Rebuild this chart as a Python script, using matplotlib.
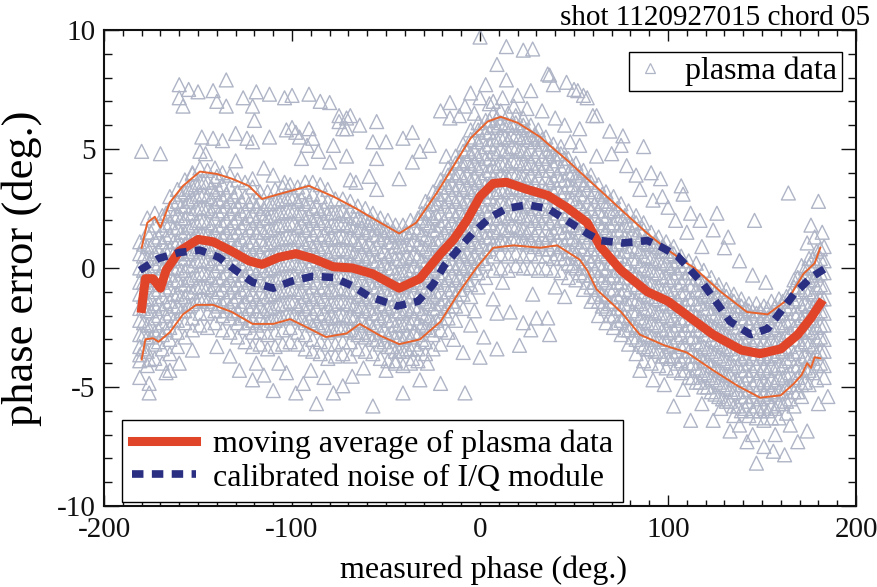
import matplotlib
matplotlib.use("Agg")
import matplotlib.pyplot as plt
from matplotlib.lines import Line2D
from matplotlib.ticker import MultipleLocator

plt.rcParams["font.family"] = ["Liberation Serif", "DejaVu Serif"]
plt.rcParams["axes.unicode_minus"] = False

TRI = "#afb5c6"
RED = "#e0452a"
RED_THIN = "#e8622c"
NAVY = "#2b2f82"

# plasma data, main band: one list of phase errors per measured-phase column
band_x = [-181, -177, -173, -169, -165, -161, -157, -153, -149, -145, -141, -137,
          -133, -129, -125, -121, -117, -113, -109, -105, -101, -97, -93, -89,
          -85, -81, -77, -73, -69, -65, -61, -57, -53, -49, -45, -41, -37, -33,
          -29, -25, -21, -17, -13, -9, -5, -1, 3, 7, 11, 15, 19, 23, 27, 31, 35,
          39, 43, 47, 51, 55, 59, 63, 67, 71, 75, 79, 83, 87, 91, 95, 99, 103,
          107, 111, 115, 119, 123, 127, 131, 135, 139, 143, 147, 151, 155, 159,
          163, 167, 171, 175, 179, 183]
band_y = [
    [-4.6, -3.9, -3.3, -2.8, -2.2, -1.7, -1.1, -0.6, 0.0, 0.6, 1.1],
    [-4.1, -3.5, -2.9, -2.4, -1.8, -1.3, -0.7, -0.2, 0.4, 0.9, 1.5, 2.1],
    [-3.8, -3.2, -2.7, -2.1, -1.6, -1.0, -0.5, 0.1, 0.6, 1.2, 1.8, 2.3],
    [-4.0, -3.4, -2.8, -2.3, -1.7, -1.2, -0.6, 0.0, 0.5, 1.1, 1.6, 2.2],
    [-3.6, -3.0, -2.5, -1.9, -1.4, -0.8, -0.3, 0.3, 0.8, 1.4, 1.9, 2.5, 3.0],
    [-3.3, -2.7, -2.2, -1.6, -1.1, -0.5, 0.0, 0.6, 1.1, 1.7, 2.2, 2.8, 3.3],
    [-2.9, -2.3, -1.8, -1.2, -0.7, -0.1, 0.4, 1.0, 1.5, 2.1, 2.6, 3.2, 3.7],
    [-2.6, -2.1, -1.5, -1.0, -0.4, 0.1, 0.7, 1.2, 1.8, 2.3, 2.9, 3.4, 4.0],
    [-2.4, -1.9, -1.3, -0.8, -0.2, 0.3, 0.9, 1.4, 2.0, 2.5, 3.1, 3.6, 4.2],
    [-2.5, -1.9, -1.4, -0.8, -0.3, 0.3, 0.8, 1.4, 1.9, 2.5, 3.0, 3.6, 4.1],
    [-2.3, -1.8, -1.2, -0.7, -0.1, 0.4, 1.0, 1.5, 2.1, 2.6, 3.2, 3.7, 4.2],
    [-2.6, -2.0, -1.5, -0.9, -0.4, 0.2, 0.7, 1.3, 1.8, 2.4, 2.9, 3.5, 4.0],
    [-2.7, -2.1, -1.6, -1.0, -0.5, 0.1, 0.6, 1.2, 1.7, 2.3, 2.8, 3.4, 3.9],
    [-2.9, -2.3, -1.8, -1.2, -0.7, -0.1, 0.4, 1.0, 1.5, 2.1, 2.6, 3.2, 3.7],
    [-3.1, -2.5, -2.0, -1.4, -0.9, -0.3, 0.2, 0.8, 1.3, 1.9, 2.4, 3.0, 3.6],
    [-3.3, -2.7, -2.2, -1.6, -1.1, -0.5, 0.0, 0.6, 1.1, 1.7, 2.2, 2.8, 3.4],
    [-3.2, -2.7, -2.1, -1.6, -1.0, -0.5, 0.1, 0.6, 1.2, 1.7, 2.3, 2.8, 3.2],
    [-3.4, -2.8, -2.3, -1.7, -1.2, -0.6, -0.1, 0.5, 1.0, 1.6, 2.1, 2.7, 3.2],
    [-3.3, -2.7, -2.2, -1.6, -1.1, -0.5, 0.0, 0.6, 1.1, 1.7, 2.2, 2.8, 3.3],
    [-3.2, -2.6, -2.1, -1.5, -1.0, -0.4, 0.1, 0.7, 1.2, 1.8, 2.3, 2.9, 3.4],
    [-3.1, -2.5, -2.0, -1.4, -0.9, -0.3, 0.2, 0.8, 1.3, 1.9, 2.4, 3.0, 3.5],
    [-3.2, -2.7, -2.1, -1.6, -1.0, -0.5, 0.1, 0.6, 1.2, 1.7, 2.3, 2.8, 3.4],
    [-3.4, -2.8, -2.3, -1.7, -1.2, -0.6, -0.1, 0.5, 1.0, 1.6, 2.1, 2.7, 3.2, 3.6],
    [-3.5, -3.0, -2.4, -1.9, -1.3, -0.8, -0.2, 0.3, 0.9, 1.4, 2.0, 2.5, 3.1, 3.6],
    [-3.6, -3.1, -2.5, -2.0, -1.4, -0.9, -0.3, 0.2, 0.8, 1.3, 1.9, 2.4, 3.0, 3.5],
    [-3.8, -3.2, -2.7, -2.1, -1.6, -1.0, -0.5, 0.1, 0.6, 1.2, 1.7, 2.3, 2.8, 3.3],
    [-3.7, -3.2, -2.6, -2.1, -1.5, -1.0, -0.4, 0.1, 0.7, 1.2, 1.8, 2.3, 2.9],
    [-3.6, -3.1, -2.5, -2.0, -1.4, -0.9, -0.3, 0.2, 0.8, 1.3, 1.9, 2.4, 2.9],
    [-3.7, -3.1, -2.6, -2.0, -1.5, -0.9, -0.4, 0.2, 0.7, 1.3, 1.8, 2.4, 2.8],
    [-3.4, -2.8, -2.3, -1.7, -1.2, -0.6, -0.1, 0.5, 1.0, 1.6, 2.1, 2.6],
    [-3.5, -2.9, -2.4, -1.8, -1.3, -0.7, -0.2, 0.4, 0.9, 1.5, 2.0, 2.5],
    [-3.6, -3.0, -2.5, -1.9, -1.4, -0.8, -0.3, 0.3, 0.8, 1.4, 1.9, 2.3],
    [-3.8, -3.2, -2.7, -2.1, -1.6, -1.0, -0.5, 0.1, 0.6, 1.2, 1.7, 2.1],
    [-3.9, -3.3, -2.8, -2.2, -1.7, -1.1, -0.6, 0.0, 0.5, 1.1, 1.6, 2.0],
    [-4.0, -3.5, -2.9, -2.4, -1.8, -1.3, -0.7, -0.2, 0.4, 0.9, 1.4, 1.8],
    [-4.1, -3.5, -3.0, -2.4, -1.9, -1.3, -0.8, -0.2, 0.3, 0.9, 1.4, 1.8],
    [-4.0, -3.4, -2.9, -2.3, -1.8, -1.2, -0.7, -0.1, 0.4, 1.0, 1.5, 2.0],
    [-3.9, -3.4, -2.8, -2.3, -1.7, -1.2, -0.6, -0.1, 0.5, 1.0, 1.6, 2.1],
    [-3.6, -3.1, -2.5, -2.0, -1.4, -0.9, -0.3, 0.2, 0.8, 1.3, 1.9, 2.4, 2.8],
    [-3.4, -2.8, -2.3, -1.7, -1.2, -0.6, -0.1, 0.5, 1.0, 1.6, 2.1, 2.7, 3.2],
    [-3.2, -2.6, -2.1, -1.5, -1.0, -0.4, 0.1, 0.7, 1.2, 1.8, 2.3, 2.9, 3.4, 3.7],
    [-2.7, -2.1, -1.6, -1.0, -0.5, 0.1, 0.6, 1.2, 1.7, 2.3, 2.8, 3.4, 3.9, 4.2],
    [-2.2, -1.6, -1.1, -0.5, 0.0, 0.6, 1.1, 1.7, 2.2, 2.8, 3.3, 3.9, 4.4, 4.7],
    [-1.7, -1.1, -0.6, 0.0, 0.5, 1.1, 1.6, 2.2, 2.7, 3.3, 3.8, 4.4, 4.9, 5.2],
    [-1.2, -0.7, -0.1, 0.4, 1.0, 1.5, 2.1, 2.6, 3.2, 3.7, 4.3, 4.8, 5.4, 5.8],
    [-0.8, -0.2, 0.3, 0.9, 1.4, 2.0, 2.5, 3.1, 3.6, 4.2, 4.7, 5.3, 5.8, 6.1],
    [-0.4, 0.2, 0.7, 1.3, 1.8, 2.4, 2.9, 3.5, 4.0, 4.6, 5.1, 5.7, 6.2],
    [-0.1, 0.5, 1.0, 1.6, 2.1, 2.7, 3.2, 3.8, 4.3, 4.9, 5.4, 6.0, 6.5],
    [0.0, 0.6, 1.1, 1.7, 2.2, 2.8, 3.3, 3.9, 4.4, 5.0, 5.5, 6.1, 6.6],
    [-0.1, 0.5, 1.0, 1.6, 2.1, 2.7, 3.2, 3.8, 4.3, 4.9, 5.4, 6.0, 6.5],
    [0.1, 0.6, 1.2, 1.7, 2.3, 2.8, 3.4, 3.9, 4.5, 5.0, 5.6, 6.1, 6.4],
    [0.0, 0.5, 1.1, 1.6, 2.2, 2.7, 3.3, 3.8, 4.4, 4.9, 5.5, 6.0, 6.3],
    [0.0, 0.6, 1.1, 1.7, 2.2, 2.8, 3.3, 3.9, 4.4, 5.0, 5.5, 6.0],
    [-0.1, 0.5, 1.0, 1.6, 2.1, 2.7, 3.2, 3.8, 4.3, 4.9, 5.4, 5.8],
    [0.0, 0.5, 1.1, 1.6, 2.2, 2.7, 3.3, 3.8, 4.4, 4.9, 5.5],
    [-0.1, 0.4, 1.0, 1.5, 2.1, 2.6, 3.2, 3.7, 4.3, 4.8, 5.2],
    [-0.2, 0.4, 0.9, 1.5, 2.0, 2.6, 3.1, 3.7, 4.2, 4.8, 5.1],
    [-0.4, 0.2, 0.7, 1.3, 1.8, 2.4, 2.9, 3.5, 4.0, 4.6],
    [-0.5, 0.0, 0.6, 1.1, 1.7, 2.2, 2.8, 3.3, 3.9, 4.4],
    [-0.9, -0.3, 0.2, 0.8, 1.3, 1.9, 2.4, 3.0, 3.5, 4.1],
    [-1.4, -0.8, -0.3, 0.3, 0.8, 1.4, 1.9, 2.5, 3.0, 3.6, 3.9],
    [-2.0, -1.4, -0.9, -0.3, 0.2, 0.8, 1.3, 1.9, 2.4, 3.0, 3.5],
    [-2.3, -1.7, -1.2, -0.6, -0.1, 0.5, 1.0, 1.6, 2.1, 2.7, 3.2],
    [-2.5, -2.0, -1.4, -0.9, -0.3, 0.2, 0.8, 1.3, 1.9, 2.4, 3.0],
    [-2.8, -2.2, -1.7, -1.1, -0.6, 0.0, 0.5, 1.1, 1.6, 2.2, 2.7],
    [-3.2, -2.6, -2.1, -1.5, -1.0, -0.4, 0.1, 0.7, 1.2, 1.8, 2.4],
    [-3.6, -3.0, -2.5, -1.9, -1.4, -0.8, -0.3, 0.3, 0.8, 1.4, 1.9, 2.2],
    [-3.9, -3.3, -2.8, -2.2, -1.7, -1.1, -0.6, 0.0, 0.5, 1.1, 1.6, 1.9],
    [-4.0, -3.4, -2.9, -2.3, -1.8, -1.2, -0.7, -0.1, 0.4, 1.0, 1.5],
    [-4.1, -3.5, -3.0, -2.4, -1.9, -1.3, -0.8, -0.2, 0.3, 0.9, 1.3],
    [-4.2, -3.7, -3.1, -2.6, -2.0, -1.5, -0.9, -0.4, 0.2, 0.7, 1.1],
    [-4.3, -3.7, -3.2, -2.6, -2.1, -1.5, -1.0, -0.4, 0.1, 0.6, 0.9],
    [-4.4, -3.9, -3.3, -2.8, -2.2, -1.7, -1.1, -0.6, 0.0, 0.5],
    [-4.6, -4.0, -3.5, -2.9, -2.4, -1.8, -1.3, -0.7, -0.2, 0.3],
    [-4.8, -4.2, -3.7, -3.1, -2.6, -2.0, -1.5, -0.9, -0.4, 0.2],
    [-5.0, -4.4, -3.9, -3.3, -2.8, -2.2, -1.7, -1.1, -0.6, -0.1],
    [-5.2, -4.6, -4.1, -3.5, -3.0, -2.4, -1.9, -1.3, -0.8, -0.4],
    [-5.4, -4.8, -4.3, -3.7, -3.2, -2.6, -2.1, -1.5, -1.0, -0.7],
    [-5.6, -5.0, -4.5, -3.9, -3.4, -2.8, -2.3, -1.7, -1.2, -0.9],
    [-5.8, -5.2, -4.7, -4.1, -3.6, -3.0, -2.5, -1.9, -1.4, -1.1],
    [-6.0, -5.4, -4.9, -4.3, -3.8, -3.2, -2.7, -2.1, -1.6, -1.3],
    [-6.2, -5.6, -5.1, -4.5, -4.0, -3.4, -2.9, -2.3, -1.8, -1.5],
    [-6.3, -5.8, -5.2, -4.7, -4.1, -3.6, -3.0, -2.5, -1.9, -1.5],
    [-6.4, -5.9, -5.3, -4.8, -4.2, -3.7, -3.1, -2.6, -2.0, -1.6],
    [-6.3, -5.8, -5.2, -4.7, -4.1, -3.6, -3.0, -2.5, -1.9, -1.4],
    [-6.3, -5.7, -5.2, -4.6, -4.1, -3.5, -3.0, -2.4, -1.9, -1.3],
    [-6.1, -5.6, -5.0, -4.5, -3.9, -3.4, -2.8, -2.3, -1.7, -1.2],
    [-5.8, -5.2, -4.7, -4.1, -3.6, -3.0, -2.5, -1.9, -1.4, -0.8, -0.5],
    [-5.4, -4.9, -4.3, -3.8, -3.2, -2.7, -2.1, -1.6, -1.0, -0.5, 0.1],
    [-4.9, -4.3, -3.8, -3.2, -2.7, -2.1, -1.6, -1.0, -0.5, 0.1, 0.4],
    [-4.7, -4.1, -3.6, -3.0, -2.5, -1.9, -1.4, -0.8, -0.3, 0.3, 0.7],
    [-4.6, -4.1, -3.5, -3.0, -2.4, -1.9, -1.3, -0.8, -0.2, 0.3, 0.9],
]

# plasma data, dense core between the band columns
core_x = [-179, -175, -171, -167, -163, -159, -155, -151, -147, -143, -139, -135,
          -131, -127, -123, -119, -115, -111, -107, -103, -99, -95, -91, -87,
          -83, -79, -75, -71, -67, -63, -59, -55, -51, -47, -43, -39, -35, -31,
          -27, -23, -19, -15, -11, -7, -3, 1, 5, 9, 13, 17, 21, 25, 29, 33, 37,
          41, 45, 49, 53, 57, 61, 65, 69, 73, 77, 81, 85, 89, 93, 97, 101, 105,
          109, 113, 117, 121, 125, 129, 133, 137, 141, 145, 149, 153, 157, 161,
          165, 169, 173, 177, 181]
core_y = [
    [-3.4, -2.8, -2.3, -1.7, -1.2, -0.6, -0.1, 0.5, 1.0],
    [-2.9, -2.4, -1.8, -1.3, -0.7, -0.2, 0.4, 0.9, 1.5],
    [-3.1, -2.6, -2.0, -1.5, -0.9, -0.4, 0.2, 0.7, 1.3],
    [-2.6, -2.0, -1.5, -0.9, -0.4, 0.2, 0.7, 1.3, 1.8, 2.3],
    [-2.2, -1.6, -1.1, -0.5, 0.0, 0.6, 1.1, 1.7, 2.2, 2.7],
    [-1.8, -1.2, -0.7, -0.1, 0.4, 1.0, 1.5, 2.1, 2.6, 3.1],
    [-1.6, -1.0, -0.5, 0.1, 0.6, 1.2, 1.7, 2.3, 2.8, 3.3],
    [-1.4, -0.8, -0.3, 0.3, 0.8, 1.4, 1.9, 2.5, 3.0, 3.5],
    [-1.3, -0.8, -0.2, 0.3, 0.9, 1.4, 2.0, 2.5, 3.1, 3.6],
    [-1.5, -0.9, -0.4, 0.2, 0.7, 1.3, 1.8, 2.4, 2.9, 3.4],
    [-1.6, -1.0, -0.5, 0.1, 0.6, 1.2, 1.7, 2.3, 2.8, 3.3],
    [-1.8, -1.3, -0.7, -0.2, 0.4, 0.9, 1.5, 2.0, 2.6, 3.1],
    [-1.9, -1.4, -0.8, -0.3, 0.3, 0.8, 1.4, 1.9, 2.5, 3.0],
    [-2.1, -1.6, -1.0, -0.5, 0.1, 0.6, 1.2, 1.7, 2.3, 2.8],
    [-2.3, -1.7, -1.2, -0.6, -0.1, 0.5, 1.0, 1.6, 2.1, 2.7],
    [-2.4, -1.8, -1.3, -0.7, -0.2, 0.4, 0.9, 1.5, 2.0, 2.6],
    [-2.3, -1.8, -1.2, -0.7, -0.1, 0.4, 1.0, 1.5, 2.1, 2.5],
    [-2.2, -1.7, -1.1, -0.6, 0.0, 0.5, 1.1, 1.6, 2.2, 2.7],
    [-2.1, -1.5, -1.0, -0.4, 0.1, 0.7, 1.2, 1.8, 2.3, 2.8],
    [-2.0, -1.5, -0.9, -0.4, 0.2, 0.7, 1.3, 1.8, 2.4, 2.9],
    [-2.0, -1.4, -0.9, -0.3, 0.2, 0.8, 1.3, 1.9, 2.4, 3.0],
    [-2.1, -1.5, -1.0, -0.4, 0.1, 0.7, 1.2, 1.8, 2.3, 2.9],
    [-2.2, -1.6, -1.1, -0.5, 0.0, 0.6, 1.1, 1.7, 2.2, 2.8],
    [-2.3, -1.7, -1.2, -0.6, -0.1, 0.5, 1.0, 1.6, 2.1, 2.6],
    [-2.4, -1.9, -1.3, -0.8, -0.2, 0.3, 0.9, 1.4, 2.0, 2.5],
    [-2.6, -2.0, -1.5, -0.9, -0.4, 0.2, 0.7, 1.3, 1.8, 2.3],
    [-2.5, -2.0, -1.4, -0.9, -0.3, 0.2, 0.8, 1.3, 1.9, 2.3],
    [-2.6, -2.1, -1.5, -1.0, -0.4, 0.1, 0.7, 1.2, 1.8, 2.2],
    [-2.7, -2.1, -1.6, -1.0, -0.5, 0.1, 0.6, 1.2, 1.7, 2.1],
    [-2.7, -2.2, -1.6, -1.1, -0.5, 0.0, 0.6, 1.1, 1.7, 2.0],
    [-2.8, -2.3, -1.7, -1.2, -0.6, -0.1, 0.5, 1.0, 1.6, 1.9],
    [-3.0, -2.4, -1.9, -1.3, -0.8, -0.2, 0.3, 0.9, 1.4, 1.8],
    [-3.1, -2.6, -2.0, -1.5, -0.9, -0.4, 0.2, 0.7, 1.3, 1.6],
    [-3.3, -2.7, -2.2, -1.6, -1.1, -0.5, 0.0, 0.6, 1.1, 1.5],
    [-3.5, -2.9, -2.4, -1.8, -1.3, -0.7, -0.2, 0.4, 0.9, 1.3],
    [-3.4, -2.8, -2.3, -1.7, -1.2, -0.6, -0.1, 0.5, 1.0, 1.5],
    [-3.2, -2.7, -2.1, -1.6, -1.0, -0.5, 0.1, 0.6, 1.2, 1.7],
    [-3.0, -2.4, -1.9, -1.3, -0.8, -0.2, 0.3, 0.9, 1.4, 2.0, 2.3],
    [-2.6, -2.1, -1.5, -1.0, -0.4, 0.1, 0.7, 1.2, 1.8, 2.3, 2.7],
    [-2.2, -1.7, -1.1, -0.6, 0.0, 0.5, 1.1, 1.6, 2.2, 2.7, 3.1],
    [-1.8, -1.3, -0.7, -0.2, 0.4, 0.9, 1.5, 2.0, 2.6, 3.1, 3.6],
    [-1.4, -0.9, -0.3, 0.2, 0.8, 1.3, 1.9, 2.4, 3.0, 3.5, 4.0],
    [-0.9, -0.4, 0.2, 0.7, 1.3, 1.8, 2.4, 2.9, 3.5, 4.0, 4.5],
    [-0.5, 0.1, 0.6, 1.2, 1.7, 2.3, 2.8, 3.4, 3.9, 4.5, 5.0],
    [0.0, 0.5, 1.1, 1.6, 2.2, 2.7, 3.3, 3.8, 4.4, 4.9, 5.5],
    [0.4, 1.0, 1.5, 2.1, 2.6, 3.2, 3.7, 4.3, 4.8, 5.4, 5.9],
    [0.8, 1.3, 1.9, 2.4, 3.0, 3.5, 4.1, 4.6, 5.2, 5.7, 6.2],
    [1.0, 1.5, 2.1, 2.6, 3.2, 3.7, 4.3, 4.8, 5.4, 5.9, 6.3],
    [1.1, 1.6, 2.2, 2.7, 3.3, 3.8, 4.4, 4.9, 5.5, 6.0],
    [1.2, 1.8, 2.3, 2.9, 3.4, 4.0, 4.5, 5.1, 5.6, 6.0],
    [1.1, 1.6, 2.2, 2.7, 3.3, 3.8, 4.4, 4.9, 5.5, 5.9],
    [1.0, 1.5, 2.1, 2.6, 3.2, 3.7, 4.3, 4.8, 5.4, 5.8],
    [0.9, 1.4, 2.0, 2.5, 3.1, 3.6, 4.2, 4.7, 5.3, 5.6],
    [0.8, 1.3, 1.9, 2.4, 3.0, 3.5, 4.1, 4.6, 5.2, 5.4],
    [0.8, 1.4, 1.9, 2.5, 3.0, 3.6, 4.1, 4.7, 5.0],
    [0.6, 1.2, 1.7, 2.3, 2.8, 3.4, 3.9, 4.5, 4.8],
    [0.4, 1.0, 1.5, 2.1, 2.6, 3.2, 3.7, 4.3, 4.6],
    [0.1, 0.7, 1.2, 1.8, 2.3, 2.9, 3.4, 4.0, 4.3],
    [-0.2, 0.4, 0.9, 1.5, 2.0, 2.6, 3.1, 3.7, 4.0],
    [-0.6, 0.0, 0.5, 1.1, 1.6, 2.2, 2.7, 3.3, 3.7],
    [-1.2, -0.6, -0.1, 0.5, 1.0, 1.6, 2.1, 2.7, 3.2],
    [-1.6, -1.1, -0.5, 0.0, 0.6, 1.1, 1.7, 2.2, 2.8, 3.1],
    [-2.0, -1.5, -0.9, -0.4, 0.2, 0.7, 1.3, 1.8, 2.4, 2.8],
    [-2.3, -1.7, -1.2, -0.6, -0.1, 0.5, 1.0, 1.6, 2.1, 2.5],
    [-2.6, -2.0, -1.5, -0.9, -0.4, 0.2, 0.7, 1.3, 1.8, 2.2],
    [-2.9, -2.4, -1.8, -1.3, -0.7, -0.2, 0.4, 0.9, 1.5, 1.9],
    [-3.2, -2.6, -2.1, -1.5, -1.0, -0.4, 0.1, 0.7, 1.2, 1.6],
    [-3.4, -2.8, -2.3, -1.7, -1.2, -0.6, -0.1, 0.5, 1.0, 1.3],
    [-3.5, -3.0, -2.4, -1.9, -1.3, -0.8, -0.2, 0.3, 0.9, 1.1],
    [-3.7, -3.1, -2.6, -2.0, -1.5, -0.9, -0.4, 0.2, 0.7, 0.9],
    [-3.8, -3.3, -2.7, -2.2, -1.6, -1.1, -0.5, 0.0, 0.5, 0.7],
    [-4.0, -3.5, -2.9, -2.4, -1.8, -1.3, -0.7, -0.2, 0.3],
    [-4.3, -3.7, -3.2, -2.6, -2.1, -1.5, -1.0, -0.4, 0.1],
    [-4.6, -4.0, -3.5, -2.9, -2.4, -1.8, -1.3, -0.7, -0.2],
    [-4.8, -4.3, -3.7, -3.2, -2.6, -2.1, -1.5, -1.0, -0.5],
    [-5.0, -4.5, -3.9, -3.4, -2.8, -2.3, -1.7, -1.2, -0.8],
    [-5.3, -4.7, -4.2, -3.6, -3.1, -2.5, -2.0, -1.4, -1.0],
    [-5.5, -4.9, -4.4, -3.8, -3.3, -2.7, -2.2, -1.6, -1.2],
    [-5.6, -5.1, -4.5, -4.0, -3.4, -2.9, -2.3, -1.8, -1.4],
    [-5.8, -5.2, -4.7, -4.1, -3.6, -3.0, -2.5, -1.9, -1.6],
    [-5.9, -5.4, -4.8, -4.3, -3.7, -3.2, -2.6, -2.1, -1.7],
    [-6.0, -5.4, -4.9, -4.3, -3.8, -3.2, -2.7, -2.1, -1.8],
    [-6.0, -5.5, -4.9, -4.4, -3.8, -3.3, -2.7, -2.2, -1.8],
    [-6.0, -5.4, -4.9, -4.3, -3.8, -3.2, -2.7, -2.1, -1.7],
    [-5.9, -5.3, -4.8, -4.2, -3.7, -3.1, -2.6, -2.0, -1.6],
    [-5.7, -5.2, -4.6, -4.1, -3.5, -3.0, -2.4, -1.9, -1.4],
    [-5.5, -4.9, -4.4, -3.8, -3.3, -2.7, -2.2, -1.6, -1.1],
    [-5.2, -4.6, -4.1, -3.5, -3.0, -2.4, -1.9, -1.3, -0.8, -0.4],
    [-4.8, -4.2, -3.7, -3.1, -2.6, -2.0, -1.5, -0.9, -0.4, 0.0],
    [-4.4, -3.8, -3.3, -2.7, -2.2, -1.6, -1.1, -0.5, 0.0, 0.4],
    [-4.0, -3.5, -2.9, -2.4, -1.8, -1.3, -0.7, -0.2, 0.4, 0.8],
]

# plasma data, scattered points away from the main band
stray_x = [-160, -155, -150, -142, -135, -160, -158, -140, -135, -126, -119, -121,
           -112, -104, -100, -91, -85, -80, -75, -69, -120,
           -148, -142, -137, -130, -124, -121, -112, -149, -146, -103, -100, -98,
           -96, -91, -89, -92, -86, -80, -75, -71, -78, -71, -69,
           -180, -170, -153, -140, -121, -104, -130, -115, -95, -110,
           0, 14, 23, 28, 9, 14, 3, -5, 0, 7, 12, 20, 27, 37, 39, 46, 52, 55,
           -21, -16, -16, -11, -27, -32, -18, -36, -41, -50, -57, -55, -36, -43,
           -59, -55, -66, -71, -64, -55, -73, 36, 50, 57, 60, 53, 48, 53,
           -8, -3, 5, 18, 25, 33, 40, 45,
           62, 69, 76, 75, 87, 62, 78, 91, 96, 107, 108, 92, 100, 112, 117, 126,
           124, 132, 130, 146, 164, 180, 178, 174, 70, 83, 85, 97, 104, 110, 118,
           138, 145, 152, 176, 182,
           7, 28, 9, 16, 23, 30, 36, 37, 27, 21, 9, 0, -9, 2, -8, -21, -32, -41,
           -57, -5, -14, 12, 45, 40, -3,
           -176, -176, -167, -153, -128, -119, -121, -110, -98, -87, -94, -78,
           -73, -68, -103, -176, -181, -160, -140, -133, -165, -115, -107, -90,
           -83, -62, -50, -45, -28, -36,
           147, 162, 156, 151, 142, 169, 174, 133, 124, 112, 103, 92, 85, 180,
           185, 138, 128, 118, 108, 98, 157, 165, 145, 135]
stray_y = [7.7, 7.5, 7.4, 7.45, 7.9, 7.15, 6.8, 7.0, 6.8, 7.15, 7.4, 6.8,
           7.3, 7.15, 7.25, 7.3, 7.0, 6.95, 6.4, 6.4, 6.2,
           5.5, 5.45, 5.35, 5.65, 5.45, 5.3, 5.5, 4.9, 4.8, 5.8, 5.9, 5.7,
           5.5, 5.85, 5.45, 5.15, 4.9, 4.45, 6.15, 5.85, 5.15, 4.7, 3.7,
           4.9, 4.8, 3.95, 3.85, 3.75, 3.6, 4.5, 4.2, 4.6, 3.9,
           9.7, 9.3, 9.15, 9.2, 8.55, 7.9, 7.7, 7.35, 7.15, 7.0, 7.15, 7.25, 7.45,
           8.1, 7.7, 7.8, 7.45, 7.25,
           6.6, 6.95, 6.3, 6.4, 5.15, 4.9, 4.7, 5.7, 5.45, 5.3, 5.3, 4.6, 4.45,
           3.75, 3.85, 3.3, 3.6, 6.3, 6.0, 6.15, 5.85, 8.15, 7.5, 7.15, 6.4,
           5.85, 5.3, 5.15,
           6.8, 6.5, 6.9, 6.8, 6.7, 6.6, 6.3, 6.0,
           6.4, 5.75, 5.55, 5.15, 5.1, 4.7, 4.3, 4.0, 3.75, 3.45, 3.1, 2.85, 2.55,
           2.3, 2.0, 2.3, 1.6, 1.3, 0.85, 2.0, 3.15, 2.8, 1.3, 1.05, 4.8, 3.9,
           3.3, 3.0, 2.0, 1.5, 0.9, 0.3, -0.3, -0.6, 1.8, 1.5,
           -1.3, -1.1, -1.9, -1.85, -2.3, -2.1, -2.1, -2.8, -2.6, -3.25, -3.4,
           -3.75, -3.55, -2.9, -5.25, -4.85, -4.7, -5.25, -5.8, -2.4, -3.0, -0.6,
           -1.2, -0.8, -1.8,
           -5.25, -4.85, -4.4, -3.45, -4.3, -4.0, -4.7, -5.15, -5.25, -5.7, -4.85,
           -5.25, -4.95, -4.55, -4.4, -3.85, -3.65, -4.0, -3.3, -3.7, -4.3, -4.5,
           -4.0, -4.3, -4.6, -4.2, -4.3, -3.9, -4.0, -3.8,
           -8.2, -7.85, -7.7, -7.5, -7.3, -7.3, -6.85, -6.85, -6.4, -6.4, -5.8,
           -4.7, -4.3, -5.7, -5.4, -6.6, -5.9, -5.7, -5.1, -4.9, -7.0, -6.6,
           -7.0, -6.2]

# moving average of the plasma data and its +/- one sigma envelope
avg_x = [-180, -178, -174, -170, -167, -160, -150, -142, -132, -123, -116, -107,
         -98, -89, -78, -68, -57, -43, -32, -21, -14, -7, 0, 7, 14, 25, 36, 46,
         57, 64, 75, 89, 100, 112, 124, 139, 149, 160, 169, 176, 181]
avg_y = [-1.7, -0.45, -0.45, -0.85, -0.1, 0.7, 1.2, 1.1, 0.7, 0.3, 0.15, 0.45,
         0.6, 0.4, 0.05, 0.0, -0.25, -0.85, -0.45, 0.6, 1.2, 2.0, 3.0, 3.55, 3.6,
         3.3, 3.05, 2.55, 1.9, 0.9, -0.1, -1.0, -1.4, -2.1, -2.8, -3.45, -3.6,
         -3.4, -2.8, -2.1, -1.5]

upper_x = [-180, -177, -173, -170, -165, -158, -149, -140, -132, -123, -116,
           -107, -91, -78, -66, -53, -43, -34, -23, -14, -5, 4, 11, 20, 32, 37,
           46, 57, 64, 75, 89, 100, 110, 114, 128, 142, 153, 164, 172, 178, 181]
upper_y = [0.85, 1.9, 2.15, 1.7, 2.75, 3.45, 4.05, 3.95, 3.75, 3.45, 2.9, 3.1,
           3.45, 3.0, 2.5, 1.9, 1.45, 1.9, 3.15, 4.3, 5.45, 6.15, 6.35, 6.1, 5.5,
           5.15, 4.55, 3.75, 3.25, 2.45, 1.45, 0.75, 0.2, 0.0, -1.0, -1.85,
           -1.95, -1.3, -0.25, 0.2, 0.85]

lower_x = [-180, -178, -174, -171, -165, -158, -151, -142, -132, -121, -110,
           -101, -92, -82, -71, -64, -53, -43, -32, -21, -11, -2, 7, 18, 32, 41,
           53, 57, 62, 75, 85, 98, 110, 124, 137, 149, 160, 167, 171, 174, 176,
           178, 181]
lower_y = [-3.85, -3.0, -2.95, -3.1, -2.7, -1.95, -1.55, -1.55, -1.85, -2.35,
           -2.35, -2.15, -2.5, -2.9, -2.75, -2.35, -2.85, -3.2, -3.0, -2.25, -1.0,
           0.0, 0.85, 0.95, 0.85, 0.95, 0.35, -0.1, -0.9, -1.85, -2.8, -3.25,
           -3.55, -4.3, -4.95, -5.45, -5.35, -4.85, -4.5, -4.0, -4.2, -3.75, -3.8]

# calibrated I/Q module noise
iq_x = [-181, -171, -160, -149, -139, -130, -121, -110, -100, -89, -78, -68,
        -59, -44, -33, -25, -19, -12, -4, 5, 14, 25, 36, 46, 57, 64, 76, 89, 96,
        105, 119, 133, 144, 153, 167, 176, 184]
iq_y = [-0.1, 0.4, 0.65, 0.75, 0.45, -0.1, -0.6, -0.85, -0.55, -0.35, -0.4,
        -0.75, -1.2, -1.6, -1.4, -0.7, 0.1, 0.75, 1.45, 2.1, 2.5, 2.65, 2.5, 2.0,
        1.45, 1.15, 1.05, 1.15, 0.9, 0.5, -0.7, -2.25, -2.8, -2.55, -1.1, -0.4,
        0.0]

px, py = [], []
for cols_x, cols_y in ((band_x, band_y), (core_x, core_y)):
    for x, ys in zip(cols_x, cols_y):
        px += [x] * len(ys)
        py += ys
px += stray_x
py += stray_y

fig = plt.figure(figsize=(8.78, 5.87), dpi=100)
ax = fig.add_axes([0.1185, 0.138, 0.8565, 0.811])

ax.scatter(px, py, marker="^", s=100, facecolors="none", edgecolors=TRI,
           linewidths=1.0, zorder=2)
ax.plot(upper_x, upper_y, color=RED_THIN, lw=1.4, zorder=3)
ax.plot(lower_x, lower_y, color=RED_THIN, lw=1.4, zorder=3)
ax.plot(avg_x, avg_y, color=RED, lw=6.5, solid_joinstyle="round", zorder=4)
ax.plot(iq_x, iq_y, color=NAVY, lw=5.5, ls=(0, (1.5, 1.1)),
        dash_capstyle="butt", zorder=5)

ax.set_xlim(-200, 200)
ax.set_ylim(-10, 10)
ax.xaxis.set_major_locator(MultipleLocator(100))
ax.xaxis.set_minor_locator(MultipleLocator(10))
ax.yaxis.set_major_locator(MultipleLocator(5))
ax.yaxis.set_minor_locator(MultipleLocator(1))
ax.tick_params(which="both", direction="in", top=True, right=True,
               width=1.0, labelsize=21, colors="#111111")
ax.tick_params(axis="x", which="major", length=8, pad=8)
ax.tick_params(axis="x", which="minor", length=4.5)
ax.tick_params(axis="y", which="major", length=11, pad=6)
ax.tick_params(axis="y", which="minor", length=5.5)
for s in ax.spines.values():
    s.set_linewidth(1.5)
    s.set_color("#111111")

ax.set_xlabel("measured phase (deg.)", fontsize=23, va="top")
ax.xaxis.set_label_coords(0.505, -0.103)
ax.set_ylabel("phase error (deg.)", fontsize=32)
ax.yaxis.set_label_coords(-0.083, 0.5)
fig.text(870 / 878, 1 - 25 / 587, "shot 1120927015 chord 05", ha="right",
         va="baseline", fontsize=21)

tri_handle = Line2D([], [], marker="^", ls="none", mfc="none", mec=TRI,
                    ms=7, mew=0.9)
leg1 = ax.legend([tri_handle], ["plasma data"], loc="upper right",
                 bbox_to_anchor=(0.981, 0.954), fontsize=23, frameon=True,
                 fancybox=False, edgecolor="black", framealpha=1,
                 handlelength=1.0, handletextpad=0.6, borderpad=0.15,
                 borderaxespad=0)
leg1.get_frame().set_linewidth(1.0)
ax.add_artist(leg1)

line_handles = [Line2D([], [], color=RED, lw=6.5),
                Line2D([], [], color=NAVY, lw=5.5, ls=(0, (1.5, 1.1)),
                       dash_capstyle="butt")]
leg2 = ax.legend(line_handles, ["moving average of plasma data",
                                "calibrated noise of I/Q module"],
                 loc="lower left", bbox_to_anchor=(0.024, 0.008), fontsize=23,
                 frameon=True, fancybox=False, edgecolor="black", framealpha=1,
                 handlelength=2.0, handletextpad=0.55, labelspacing=0.12,
                 borderpad=0.3, borderaxespad=0)
leg2.get_frame().set_linewidth(1.0)

fig.savefig("out.png", dpi=100)
